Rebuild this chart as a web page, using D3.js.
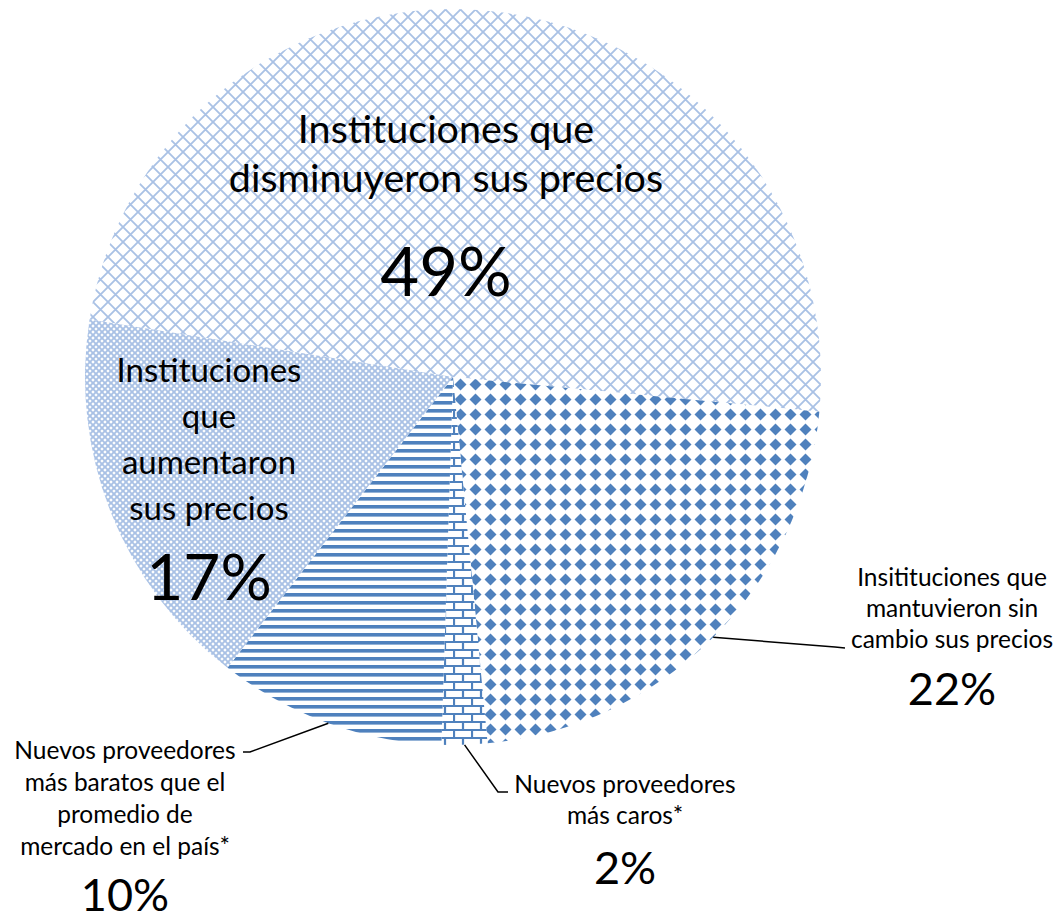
<!DOCTYPE html>
<html>
<head>
<meta charset="utf-8">
<script src="https://cdn.jsdelivr.net/npm/d3@7"></script>
<style>
  body { margin: 0; background: #fff; }
  svg { display: block; font-family: Lato, "Open Sans", sans-serif; }
</style>
</head>
<body>
<div id="grafico"></div>
<script>
// datos del grafico
const categorias = [
  "Instituciones que disminuyeron sus precios",
  "Insitituciones que mantuvieron sin cambio sus precios",
  "Nuevos proveedores más caros*",
  "Nuevos proveedores más baratos que el promedio de mercado en el país*",
  "Instituciones que aumentaron sus precios"
];
const valores = [49, 22, 2, 10, 17];
const etiquetasPct = ["49%", "22%", "2%", "10%", "17%"];
const lineasTexto = [
  ["Instituciones que", "disminuyeron sus precios"],
  ["Insitituciones que", "mantuvieron sin", "cambio sus precios"],
  ["Nuevos proveedores", "más caros*"],
  ["Nuevos proveedores", "más baratos que el", "promedio de", "mercado en el país*"],
  ["Instituciones", "que", "aumentaron", "sus precios"]
];

const ancho = 1062, alto = 919;
const cx = 453, cy = 377, radio = 368;
const azul = "#4f81bd", azulClaro = "#a9c1e5";

const svg = d3.select("#grafico").append("svg")
  .attr("width", ancho).attr("height", alto);

const defs = svg.append("defs");

// 49% - cuadricula diagonal clara
const p0 = defs.append("pattern").attr("id", "pat0")
  .attr("patternUnits", "userSpaceOnUse").attr("width", 15).attr("height", 15);
p0.append("rect").attr("width", 15).attr("height", 15).attr("fill", "#fff");
p0.append("path").attr("d", "M0,0L15,15M15,0L0,15M-1,14L1,16M14,-1L16,1")
  .attr("stroke", azulClaro).attr("stroke-width", 1.8).attr("fill", "none");

// 22% - rombos
const p1 = defs.append("pattern").attr("id", "pat1")
  .attr("patternUnits", "userSpaceOnUse").attr("width", 15).attr("height", 15);
p1.append("rect").attr("width", 15).attr("height", 15).attr("fill", "#fff");
p1.append("path").attr("d", "M7.5,1.5L13.5,7.5L7.5,13.5L1.5,7.5Z").attr("fill", azul);

// 2% - ladrillos
const p2 = defs.append("pattern").attr("id", "pat2")
  .attr("patternUnits", "userSpaceOnUse").attr("width", 18).attr("height", 16);
p2.append("rect").attr("width", 18).attr("height", 16).attr("fill", "#fff");
p2.append("path")
  .attr("d", "M0,1H18M0,9H18M1,1V9M10,9V17")
  .attr("stroke", azul).attr("stroke-width", 2.2).attr("fill", "none");

// 10% - lineas horizontales
const p3 = defs.append("pattern").attr("id", "pat3")
  .attr("patternUnits", "userSpaceOnUse").attr("width", 8).attr("height", 8);
p3.append("rect").attr("width", 8).attr("height", 8).attr("fill", "#fff");
p3.append("rect").attr("y", 0).attr("width", 8).attr("height", 3.6).attr("fill", azul);

// 17% - cuadricula diagonal fina
const p4 = defs.append("pattern").attr("id", "pat4")
  .attr("patternUnits", "userSpaceOnUse").attr("width", 6).attr("height", 6);
p4.append("rect").attr("width", 6).attr("height", 6).attr("fill", "#fff");
p4.append("path").attr("d", "M0,0L6,6M6,0L0,6M-1,5L1,7M5,-1L7,1")
  .attr("stroke", "#a9c1e5").attr("stroke-width", 1.9).attr("fill", "none");

const inicio = -81 * Math.PI / 180;
const pie = d3.pie().sort(null).startAngle(inicio).endAngle(inicio + 2 * Math.PI);
const arcos = pie(valores);
const arc = d3.arc().innerRadius(0).outerRadius(radio);

const g = svg.append("g").attr("transform", "translate(" + cx + "," + cy + ")");

g.selectAll("path.slice")
  .data(arcos)
  .enter().append("path")
  .attr("class", "slice")
  .attr("d", arc)
  .attr("fill", (d, i) => "url(#pat" + i + ")");

// posiciones de etiquetas
const posEtiqueta = [
  { x: 446, y: 143, dy: 49, fs: 39.5, py: 296, pfs: 67 },
  { x: 952, y: 586, dy: 31, fs: 24.5, py: 705, pfs: 45 },
  { x: 625, y: 793, dy: 31, fs: 24.5, py: 884, pfs: 45 },
  { x: 125, y: 759, dy: 32, fs: 24.5, py: 911, pfs: 45 },
  { x: 209, y: 382, dy: 46, fs: 33, py: 600, pfs: 64 }
];

arcos.forEach((d, i) => {
  const p = posEtiqueta[i];
  const t = svg.append("text")
    .attr("text-anchor", "middle")
    .attr("font-size", p.fs)
    .attr("fill", "#000");
  lineasTexto[i].forEach((l, j) => {
    t.append("tspan").attr("x", p.x).attr("y", p.y + j * p.dy).text(l);
  });
  svg.append("text")
    .attr("x", p.x).attr("y", p.py)
    .attr("text-anchor", "middle")
    .attr("font-size", p.pfs)
    .attr("fill", "#000")
    .text(etiquetasPct[i]);
});

// lineas guia
const guias = [
  { i: 1, codo: [835, 647], fin: [845, 648] },
  { i: 2, codo: [498, 792], fin: [508, 792] },
  { i: 3, codo: [250, 752], fin: [243, 752] }
];
guias.forEach(gu => {
  const d = arcos[gu.i];
  const a = (d.startAngle + d.endAngle) / 2;
  const x0 = cx + Math.sin(a) * radio;
  const y0 = cy - Math.cos(a) * radio;
  svg.append("path")
    .attr("d", d3.line()([[x0, y0], gu.codo, gu.fin]))
    .attr("fill", "none")
    .attr("stroke", "#000")
    .attr("stroke-width", 1.5);
});
</script>
</body>
</html>
